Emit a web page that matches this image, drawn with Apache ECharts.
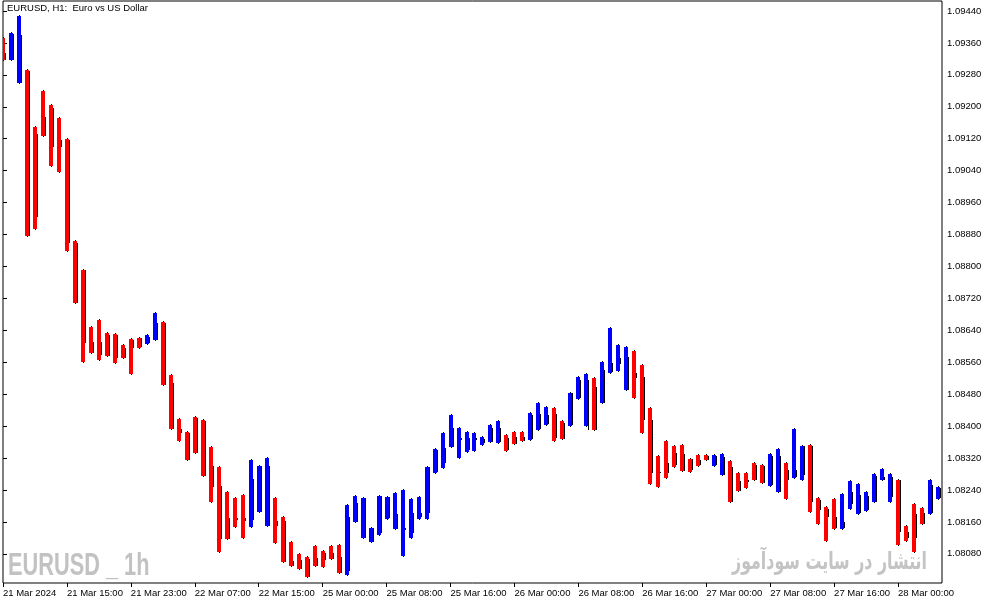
<!DOCTYPE html>
<html>
<head>
<meta charset="utf-8">
<script src="https://cdn.jsdelivr.net/npm/echarts@6/dist/echarts.min.js"></script>
<style>
html,body{margin:0;padding:0;background:#fff;}
#chart{width:994px;height:605px;}
</style>
</head>
<body>
<div id="chart"></div>
<script>
// EURUSD H1 bars (index 0 = 21 Mar 2024 07:00)
const opens = [1.09335,1.09317,1.09260,1.09290,1.09132,1.09174,1.09197,1.09117,1.09117,1.08859,
1.08791,1.08611,1.08611,1.08628,1.08628,1.08596,1.08616,1.08621,1.08608,1.08616,
1.08658,1.08508,1.08393,1.08383,1.08421,1.08413,1.08300,1.08250,1.08170,1.08170,
1.08170,1.08165,1.08185,1.08150,1.08162,1.08162,1.08062,1.08065,1.08067,1.08070,
1.08082,1.08082,1.08072,1.08037,1.08160,1.08120,1.08110,1.08132,1.08170,1.08142,
1.08140,1.08132,1.08172,1.08183,1.08285,1.08308,1.08348,1.08365,1.08340,1.08365,
1.08358,1.08360,1.08360,1.08370,1.08373,1.08373,1.08368,1.08393,1.08405,1.08430,
1.08408,1.08403,1.08471,1.08390,1.08498,1.08458,1.08536,1.08556,1.08491,1.08533,
1.08523,1.08416,1.08285,1.08308,1.08333,1.08330,1.08318,1.08315,1.08325,1.08303,
1.08278,1.08298,1.08263,1.08265,1.08303,1.08300,1.08253,1.08235,1.08290,1.08273,
1.08278,1.08350,1.08215,1.08193,1.08172,1.08145,1.08205,1.08183,1.08190,1.08210,
1.08265,1.08223,1.08265,1.08135,1.08180,1.08183,1.08183,1.08220];
const highs = [1.09372,1.09385,1.09427,1.09292,1.09149,1.09240,1.09205,1.09172,1.09119,1.08864,
1.08791,1.08648,1.08666,1.08633,1.08631,1.08603,1.08618,1.08621,1.08628,1.08683,
1.08661,1.08528,1.08418,1.08385,1.08423,1.08416,1.08348,1.08298,1.08235,1.08220,
1.08228,1.08315,1.08300,1.08320,1.08220,1.08172,1.08110,1.08080,1.08072,1.08100,
1.08087,1.08100,1.08102,1.08203,1.08225,1.08220,1.08145,1.08225,1.08223,1.08233,
1.08240,1.08218,1.08223,1.08298,1.08343,1.08383,1.08428,1.08395,1.08385,1.08383,
1.08373,1.08403,1.08413,1.08378,1.08385,1.08385,1.08433,1.08458,1.08448,1.08446,
1.08413,1.08483,1.08523,1.08531,1.08521,1.08561,1.08646,1.08603,1.08598,1.08588,
1.08553,1.08446,1.08325,1.08363,1.08350,1.08353,1.08318,1.08328,1.08328,1.08328,
1.08330,1.08313,1.08283,1.08283,1.08308,1.08303,1.08330,1.08343,1.08308,1.08393,
1.08350,1.08353,1.08220,1.08198,1.08218,1.08230,1.08263,1.08255,1.08235,1.08280,
1.08293,1.08280,1.08265,1.08150,1.08205,1.08195,1.08265,1.08248];
const lows = [1.09317,1.09317,1.09260,1.08876,1.08894,1.09127,1.09052,1.09037,1.08839,1.08709,
1.08561,1.08583,1.08566,1.08576,1.08558,1.08571,1.08531,1.08596,1.08606,1.08616,
1.08503,1.08393,1.08363,1.08315,1.08333,1.08275,1.08210,1.08085,1.08117,1.08147,
1.08120,1.08147,1.08185,1.08150,1.08107,1.08060,1.08050,1.08042,1.08022,1.08050,
1.08047,1.08067,1.08032,1.08027,1.08160,1.08120,1.08110,1.08127,1.08167,1.08142,
1.08075,1.08120,1.08167,1.08167,1.08283,1.08295,1.08348,1.08320,1.08335,1.08338,
1.08353,1.08360,1.08358,1.08338,1.08355,1.08363,1.08365,1.08390,1.08403,1.08363,
1.08368,1.08400,1.08468,1.08400,1.08390,1.08458,1.08533,1.08538,1.08491,1.08471,
1.08383,1.08255,1.08248,1.08270,1.08298,1.08288,1.08285,1.08300,1.08315,1.08300,
1.08278,1.08210,1.08238,1.08245,1.08265,1.08258,1.08250,1.08235,1.08218,1.08270,
1.08265,1.08185,1.08155,1.08112,1.08142,1.08142,1.08193,1.08180,1.08188,1.08210,
1.08265,1.08210,1.08102,1.08112,1.08085,1.08155,1.08180,1.08218];
const closes = [1.09317,1.09382,1.09380,1.08876,1.08924,1.09127,1.09099,1.09099,1.08859,1.08709,
1.08608,1.08583,1.08578,1.08576,1.08571,1.08571,1.08596,1.08598,1.08623,1.08658,
1.08503,1.08393,1.08383,1.08315,1.08333,1.08275,1.08248,1.08117,1.08117,1.08165,
1.08162,1.08268,1.08300,1.08300,1.08150,1.08060,1.08050,1.08042,1.08022,1.08050,
1.08065,1.08067,1.08032,1.08172,1.08208,1.08220,1.08145,1.08225,1.08223,1.08180,
1.08145,1.08183,1.08183,1.08298,1.08340,1.08345,1.08395,1.08370,1.08370,1.08370,
1.08368,1.08395,1.08395,1.08340,1.08355,1.08363,1.08428,1.08430,1.08428,1.08370,
1.08368,1.08483,1.08516,1.08516,1.08390,1.08541,1.08558,1.08571,1.08573,1.08521,
1.08416,1.08283,1.08283,1.08283,1.08303,1.08288,1.08290,1.08303,1.08315,1.08325,
1.08323,1.08210,1.08238,1.08260,1.08265,1.08258,1.08325,1.08325,1.08265,1.08290,
1.08350,1.08210,1.08190,1.08172,1.08145,1.08160,1.08235,1.08228,1.08225,1.08275,
1.08273,1.08273,1.08135,1.08120,1.08120,1.08155,1.08253,1.08245];
const tickLabels = ['21 Mar 2024','21 Mar 15:00','21 Mar 23:00','22 Mar 07:00','22 Mar 15:00',
'25 Mar 00:00','25 Mar 08:00','25 Mar 16:00','26 Mar 00:00','26 Mar 08:00','26 Mar 16:00',
'27 Mar 00:00','27 Mar 08:00','27 Mar 16:00','28 Mar 00:00'];
const priceTicks = [1.08080,1.08160,1.08240,1.08320,1.08400,1.08480,1.08560,1.08640,1.08720,
1.08800,1.08880,1.08960,1.09040,1.09120,1.09200,1.09280,1.09360,1.09440];
const UP = '#0000ff', DOWN = '#ff0000';

const barData = opens.map((o, i) => [i, o, highs[i], lows[i], closes[i]]);
const xTicks = tickLabels.map((_, j) => j * 8);

const chart = echarts.init(document.getElementById('chart'), null, {renderer: 'canvas'});
const FONT = 'Liberation Sans';
chart.setOption({
  animation: false,
  backgroundColor: '#ffffff',
  grid: {left: 2, top: 1, right: 52, bottom: 22, show: true, borderColor: '#000', borderWidth: 1, backgroundColor: 'transparent'},
  xAxis: {
    type: 'value', min: 0, max: 117.5,
    axisLine: {show: false},
    splitLine: {show: false},
    axisTick: {show: true, length: 4, inside: false, lineStyle: {color: '#000'}, customValues: xTicks},
    axisLabel: {
      customValues: xTicks, align: 'left', margin: 5, color: '#000',
      fontFamily: FONT, fontSize: 9.5,
      formatter: v => tickLabels[Math.round(v / 8)] || ''
    }
  },
  yAxis: {
    type: 'value', position: 'right', min: 1.08007, max: 1.09465, scale: true,
    axisLine: {show: false},
    splitLine: {show: false},
    axisTick: {show: true, length: 4, inside: false, lineStyle: {color: '#000'}, customValues: priceTicks},
    axisLabel: {
      customValues: priceTicks, margin: 5, color: '#000',
      fontFamily: FONT, fontSize: 9.5,
      formatter: v => v.toFixed(5)
    }
  },
  graphic: [
    {type: 'text', left: 7, top: 3, style: {text: 'EURUSD, H1:  Euro vs US Dollar', font: '9.5px "Liberation Sans"', fill: '#000'}},
    {type: 'text', x: 8, y: 566, scaleX: 0.68, z: -1,
     style: {text: 'EURUSD _ 1h', x: 0, y: 0, font: 'bold 32px "Liberation Sans"', fill: '#c2c2c2', verticalAlign: 'middle'}},
    {type: 'text', x: 927, y: 563, scaleX: 0.66, z: -1,
     style: {text: 'انتشار در سایت سودآموز', x: 0, y: 0, font: 'bold 24px "DejaVu Sans"', fill: '#c4c4c4', align: 'right', verticalAlign: 'middle'}}
  ],
  series: [{
    type: 'custom',
    clip: true,
    data: barData,
    encode: {x: 0, y: [1, 2, 3, 4]},
    renderItem: function (params, api) {
      const i = api.value(0), o = api.value(1), h = api.value(2), l = api.value(3), c = api.value(4);
      const pH = api.coord([i, h]), pL = api.coord([i, l]);
      const pO = api.coord([i, o]), pC = api.coord([i, c]);
      const cx = Math.round(pH[0]);
      const yH = Math.round(pH[1]), yL = Math.round(pL[1]);
      const yT = Math.round(Math.min(pO[1], pC[1])), yB = Math.round(Math.max(pO[1], pC[1]));
      const color = c > o ? UP : DOWN;
      return {
        type: 'group',
        children: [
          {type: 'rect', shape: {x: cx, y: yH - 1, width: 1, height: yL - yH + 2}, style: {fill: '#000'}},
          {type: 'rect', shape: {x: cx + 2, y: yT, width: 1, height: Math.max(1, yB - yT)}, style: {fill: '#000'}},
          {type: 'rect', shape: {x: cx - 2, y: yH, width: 4, height: Math.max(1, yL - yH)}, style: {fill: color}}
        ]
      };
    }
  }]
});
</script>
</body>
</html>
